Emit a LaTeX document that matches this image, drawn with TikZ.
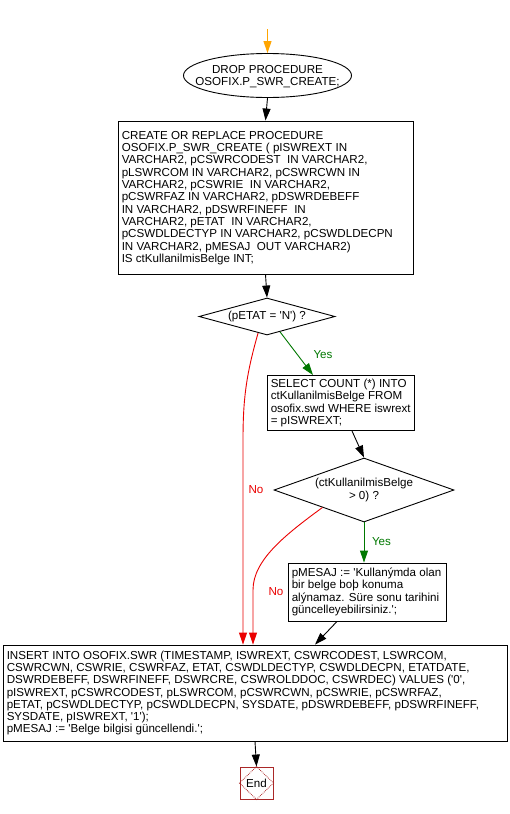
\documentclass[tikz,border=0pt]{standalone}
\usepackage{fontspec}
\newfontfamily\af{Liberation Sans}
\usetikzlibrary{shapes.geometric,arrows.meta,calc}
\definecolor{yesg}{RGB}{0,120,0}
\definecolor{nored}{RGB}{235,0,0}
\definecolor{endc}{RGB}{170,40,40}
\definecolor{orng}{RGB}{255,165,0}
\newcommand{\sq}{\textquotesingle}
\begin{document}
\begin{tikzpicture}[x=1pt,y=-1pt,
  every node/.style={font=\af\fontsize{11.6}{12.3}\selectfont},
  box/.style={draw, line width=0.9pt, rectangle, inner sep=0pt},
  boxtext/.style={anchor=west, align=left, inner sep=0pt},
  dia/.style={draw, diamond, inner sep=0pt, line width=0.9pt, align=center},
  conn/.style={line width=0.9pt, -{Triangle[length=12pt,width=8pt]}},
  yesline/.style={conn, draw=yesg},
  noline/.style={conn, draw=nored},
  yeslbl/.style={text=yesg, inner sep=0pt},
  nolbl/.style={text=nored, inner sep=0pt}
]
\fill[white] (0,0) rectangle (510,814);
\useasboundingbox (0,0) rectangle (510,814);

\coordinate (start) at (267.5,29);
\node[draw, ellipse, line width=0.9pt, minimum width=168pt, minimum height=44pt, inner sep=0pt] (drop) at (267.5,75.5) {};
\node[align=center, inner sep=0pt] (droptext) at (267.5,76.5) {DROP PROCEDURE\\OSOFIX.P\_SWR\_CREATE;};

\node[box, minimum width=295pt, minimum height=153pt] (create) at (265.5,197.5) {};
\node[boxtext] (createtext) at ([xshift=4pt,yshift=-0.5pt]create.west) {CREATE OR REPLACE PROCEDURE\\
OSOFIX.P\_SWR\_CREATE ( pISWREXT IN\\
VARCHAR2, pCSWRCODEST\ \ IN VARCHAR2,\\
pLSWRCOM IN VARCHAR2, pCSWRCWN IN\\
VARCHAR2, pCSWRIE\ \ IN VARCHAR2,\\
pCSWRFAZ IN VARCHAR2, pDSWRDEBEFF\\
IN VARCHAR2, pDSWRFINEFF\ \ IN\\
VARCHAR2, pETAT\ \ IN VARCHAR2,\\
pCSWDLDECTYP IN VARCHAR2, pCSWDLDECPN\\
IN VARCHAR2, pMESAJ\ \ OUT VARCHAR2)\\
IS ctKullanilmisBelge INT;};

\node[dia, aspect=3.68, minimum width=136pt, minimum height=37pt] (d1) at (267,316.5) {(pETAT = \sq N\sq) ?};

\node[box, minimum width=147pt, minimum height=55pt] (select) at (340.5,403) {};
\node[boxtext] (selecttext) at ([xshift=4pt]select.west) {SELECT COUNT (*) INTO\\
ctKullanilmisBelge FROM\\
osofix.swd WHERE iswrext\\
= pISWREXT;};

\node[dia, aspect=2.81, minimum width=180pt, minimum height=64pt] (d2) at (364,490) {(ctKullanilmisBelge\\ \textgreater\ 0) ?};

\node[box, minimum width=158pt, minimum height=58pt] (pmesaj) at (367,592) {};
\node[boxtext] (pmesajtext) at ([xshift=4pt]pmesaj.west) {pMESAJ := \sq Kullanýmda olan\\
bir belge boþ konuma\\
alýnamaz. Süre sonu tarihini\\
güncelleyebilirsiniz.\sq;};

\node[box, minimum width=504pt, minimum height=96pt] (insert) at (255,693) {};
\node[boxtext] (inserttext) at ([xshift=4pt]insert.west) {INSERT INTO OSOFIX.SWR (TIMESTAMP, ISWREXT, CSWRCODEST, LSWRCOM,\\
CSWRCWN, CSWRIE, CSWRFAZ, ETAT, CSWDLDECTYP, CSWDLDECPN, ETATDATE,\\
DSWRDEBEFF, DSWRFINEFF, DSWRCRE, CSWROLDDOC, CSWRDEC) VALUES (\sq 0\sq,\\
pISWREXT, pCSWRCODEST, pLSWRCOM, pCSWRCWN, pCSWRIE, pCSWRFAZ,\\
pETAT, pCSWDLDECTYP, pCSWDLDECPN, SYSDATE, pDSWRDEBEFF, pDSWRFINEFF,\\
SYSDATE, pISWREXT, \sq 1\sq);\\
pMESAJ := \sq Belge bilgisi güncellendi.\sq;};

\node[draw=endc, line width=0.9pt, minimum width=33pt, minimum height=32pt, inner sep=0pt] (end) at (256.5,783) {End};
\draw[endc, densely dotted, line width=0.8pt] (end.north) -- (end.east) -- (end.south) -- (end.west) -- cycle;

% connectors
\draw[conn, draw=orng] (start) -- (drop.north);
\draw[conn] (drop.south) -- (create.north);
\draw[conn] (create.south) -- (d1.north);
\draw[yesline] ($(d1.south)!0.19!(d1.east)$) -- ([xshift=-27.5pt]select.north);
\node[yeslbl] (yes1) at (323,355) {Yes};
\draw[conn] ([xshift=11.5pt]select.south) -- (d2.north);
\draw[yesline] (d2.south) -- (d2.south |- pmesaj.north);
\node[yeslbl] (yes2) at (381.5,542) {Yes};
\draw[conn] ([xshift=-30pt]pmesaj.south) -- ([xshift=60pt]insert.north);
\draw[noline] ($(d1.south)!0.13!(d1.west)$) .. controls (246,375) and (243,400) .. (243,440) -- ([xshift=-12pt]insert.north);
\node[nolbl] (no1) at (256,490) {No};
\draw[noline] ($(d2.south)!0.46!(d2.west)$) .. controls (285,535) and (253,560) .. (253,590) -- ([xshift=-2pt]insert.north);
\node[nolbl] (no2) at (276,592) {No};
\draw[conn] (insert.south) -- (end.north);
\end{tikzpicture}
\end{document}
